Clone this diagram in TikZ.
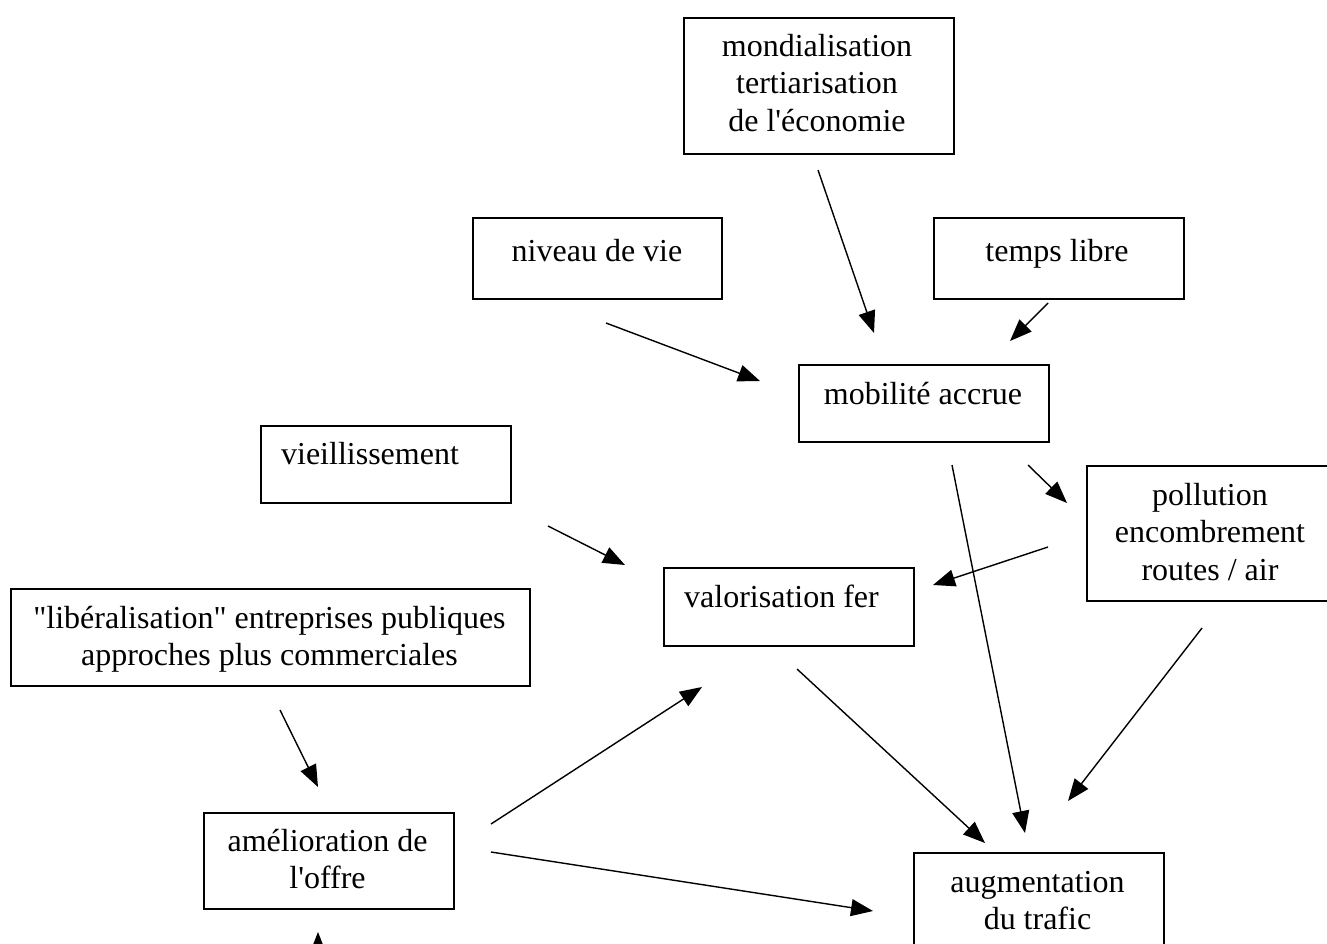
\documentclass[tikz,border=0pt]{standalone}
\usepackage{fontspec}
\setmainfont{Liberation Serif}[Ligatures=TeXOff]
\usetikzlibrary{arrows.meta}
\newcommand\mlines[1]{\vtop{\halign{\hfil##\hfil\cr#1\crcr}}}
\begin{document}
\begin{tikzpicture}[x=0.5pt,y=-0.5pt,
  box/.style={draw, line width=0.9pt, inner sep=0, anchor=north west},
  txt/.style={anchor=base, inner sep=0, font=\fontsize{16}{18.75}\selectfont},
  arr/.style={-{Triangle[length=11pt,width=8.5pt]}, line width=0.7pt}]
\clip (0,0) rectangle (1327,943);
\fill[white] (0,0) rectangle (1327,943);
% boxes
\node[box, minimum width=135pt, minimum height=68pt] (mond) at (683,17) {};
\node[box, minimum width=124.5pt, minimum height=40.5pt] (niv) at (472,217) {};
\node[box, minimum width=125pt, minimum height=40.5pt] (temps) at (933,217) {};
\node[box, minimum width=125pt, minimum height=38.5pt] (mob) at (798,364) {};
\node[box, minimum width=125pt, minimum height=38.5pt] (vieil) at (260,425) {};
\node[box, minimum width=130pt, minimum height=67.5pt] (poll) at (1086,465) {};
\node[box, minimum width=125pt, minimum height=39pt] (val) at (663,567) {};
\node[box, minimum width=259.5pt, minimum height=48.5pt] (lib) at (10,588) {};
\node[box, minimum width=125pt, minimum height=48pt] (aml) at (203,812) {};
\node[box, minimum width=125pt, minimum height=60pt] (aug) at (913,852) {};
% texts
\node[txt] (tmond) at (817,56) {\mlines{mondialisation\cr tertiarisation\cr de l'économie}};
\node[txt] (tniv) at (597,261) {niveau de vie};
\node[txt] (ttemps) at (1057,261) {temps libre};
\node[txt] (tmob) at (923,404) {mobilité accrue};
\node[txt] (tvieil) at (370,464) {vieillissement};
\node[txt] (tpoll) at (1210,505) {\mlines{pollution\cr encombrement\cr routes / air}};
\node[txt] (tval) at (781.5,607) {valorisation fer};
\node[txt] (tlib) at (269.5,628) {\mlines{"libéralisation" entreprises publiques\cr approches plus commerciales}};
\node[txt] (taml) at (327.5,851) {\mlines{amélioration de\cr l'offre}};
\node[txt] (taug) at (1037.5,892) {\mlines{augmentation\cr du trafic}};
% arrow end points
\coordinate (a1) at (818,170);  \coordinate (a2) at (874,333);
\coordinate (b1) at (1048,303); \coordinate (b2) at (1010,341);
\coordinate (c1) at (606,323);  \coordinate (c2) at (760,381);
\coordinate (d1) at (1028,465); \coordinate (d2) at (1067,503);
\coordinate (e1) at (1048,547); \coordinate (e2) at (933,585);
\coordinate (f1) at (952,465);  \coordinate (f2) at (1025,833);
\coordinate (g1) at (548,526);  \coordinate (g2) at (625,565);
\coordinate (h1) at (797,669);  \coordinate (h2) at (985,843);
\coordinate (i1) at (1202,628); \coordinate (i2) at (1068,801);
\coordinate (j1) at (280,710);  \coordinate (j2) at (318,787);
\coordinate (k1) at (491,824);  \coordinate (k2) at (702,687);
\coordinate (l1) at (491,852);  \coordinate (l2) at (873,911);
\coordinate (m1) at (318,980);  \coordinate (m2) at (318,932);
% arrows
\draw[arr] (a1) -- (a2);
\draw[arr] (b1) -- (b2);
\draw[arr] (c1) -- (c2);
\draw[arr] (d1) -- (d2);
\draw[arr] (e1) -- (e2);
\draw[arr] (f1) -- (f2);
\draw[arr] (g1) -- (g2);
\draw[arr] (h1) -- (h2);
\draw[arr] (i1) -- (i2);
\draw[arr] (j1) -- (j2);
\draw[arr] (k1) -- (k2);
\draw[arr] (l1) -- (l2);
\draw[arr] (m1) -- (m2);
\end{tikzpicture}
\end{document}
